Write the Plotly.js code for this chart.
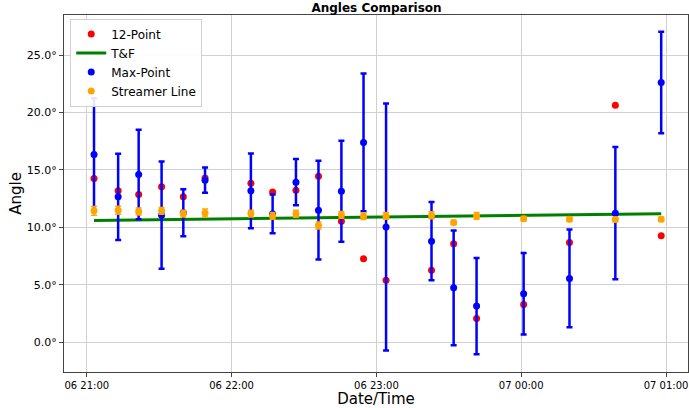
<!DOCTYPE html>
<html>
<head>
<meta charset="utf-8">
<script src="https://cdn.plot.ly/plotly-3.0.1.min.js"></script>
<style>html,body{margin:0;padding:0;background:#fff;}#chart{width:689px;height:408px;}</style>
</head>
<body>
<div id="chart"></div>
<script>
const times = [
  '2024-01-06 21:03:00','2024-01-06 21:13:00','2024-01-06 21:21:30','2024-01-06 21:31:00',
  '2024-01-06 21:40:00','2024-01-06 21:49:00','2024-01-06 22:08:00','2024-01-06 22:17:00',
  '2024-01-06 22:26:40','2024-01-06 22:36:00','2024-01-06 22:45:30','2024-01-06 22:54:40',
  '2024-01-06 23:04:00','2024-01-06 23:22:50','2024-01-06 23:32:00','2024-01-06 23:41:30',
  '2024-01-07 00:01:00','2024-01-07 00:20:00','2024-01-07 00:39:00','2024-01-07 00:58:00'
];
const twelvePoint = [14.26,13.18,12.86,13.53,12.66,14.31,13.85,13.07,13.24,14.46,10.54,7.26,5.4,6.27,8.57,2.06,3.28,8.68,20.64,9.26];
const maxPoint    = [16.35,12.66,14.6,11.06,11.28,14.11,13.18,11.18,13.94,11.5,13.15,17.4,10.04,8.8,4.73,3.14,4.21,5.55,11.24,22.62];
const maxPointErr = [4.9,3.75,3.9,4.67,2.05,1.1,3.25,1.69,2.02,4.3,4.4,6.0,10.76,3.4,5.0,4.2,3.55,4.26,5.76,4.43];
const streamer    = [11.44,11.5,11.38,11.44,11.2,11.26,11.2,11.0,11.18,10.16,11.09,10.98,11.0,11.06,10.42,11.0,10.75,10.71,10.69,10.71];
const streamerErr = [0.38,0.35,0.3,0.3,0.3,0.35,0.3,0.3,0.3,0.3,0.3,0.3,0.3,0.3,0.2,0.3,0.2,0.2,0.2,0.2];
const tfTimes = ['2024-01-06 21:03:00','2024-01-07 00:58:00'];
const tfValues = [10.6, 11.18];

const traces = [
  {x: times, y: twelvePoint, name: '12-Point', mode: 'markers', type: 'scatter',
   marker: {color: '#ff0000', size: 7}},
  {x: tfTimes, y: tfValues, name: 'T&F', mode: 'lines', type: 'scatter',
   line: {color: '#008000', width: 3}},
  {x: times, y: maxPoint, name: 'Max-Point', mode: 'markers', type: 'scatter',
   marker: {color: '#0000ff', size: 7},
   error_y: {type: 'data', array: maxPointErr, visible: true, color: '#0000ff', thickness: 2.5, width: 3}},
  {x: times, y: streamer, name: 'Streamer Line', mode: 'markers', type: 'scatter',
   marker: {color: '#ffa500', size: 7},
   error_y: {type: 'data', array: streamerErr, visible: true, color: '#ffa500', thickness: 1.5, width: 3}}
];

const font = 'DejaVu Sans, sans-serif';
const layout = {
  width: 689, height: 408,
  margin: {l: 64, r: 1, t: 15, b: 36, pad: 0},
  paper_bgcolor: '#fff', plot_bgcolor: '#fff',
  font: {family: font, color: '#000', size: 11},
  title: {text: '<b>Angles Comparison</b>', font: {family: font, size: 12, color: '#000'},
          x: 0.5465, xanchor: 'center', y: 0.982, yanchor: 'middle'},
  xaxis: {
    type: 'date',
    range: ['2024-01-06 20:50:34', '2024-01-07 01:09:06'],
    tickformat: '%d %H:%M',
    tickvals: ['2024-01-06 21:00','2024-01-06 22:00','2024-01-06 23:00','2024-01-07 00:00','2024-01-07 01:00'],
    showgrid: true, gridcolor: '#d0d0d0', gridwidth: 1,
    showline: true, linecolor: '#444', linewidth: 1, mirror: true,
    ticks: 'outside', ticklen: 4, tickcolor: '#444',
    tickfont: {family: font, size: 10},
    zeroline: false,
    title: {text: 'Date/Time', font: {family: font, size: 15}, standoff: 4}
  },
  yaxis: {
    range: [-2.6, 28.5],
    tickvals: [0, 5, 10, 15, 20, 25],
    ticktext: ['0.0°', '5.0°', '10.0°', '15.0°', '20.0°', '25.0°'],
    showgrid: true, gridcolor: '#d0d0d0', gridwidth: 1,
    showline: true, linecolor: '#444', linewidth: 1, mirror: true,
    ticks: 'outside', ticklen: 4, tickcolor: '#444',
    tickfont: {family: font, size: 11},
    zeroline: false,
    title: {text: 'Angle', font: {family: font, size: 15}, standoff: 1}
  },
  legend: {
    x: 0.01, y: 0.99, xanchor: 'left', yanchor: 'top',
    bgcolor: 'rgba(255,255,255,0.9)', bordercolor: '#d0d0d0', borderwidth: 1,
    font: {family: font, size: 12}, tracegroupgap: 0
  },
  showlegend: true
};

Plotly.newPlot('chart', traces, layout, {staticPlot: true, displayModeBar: false});
</script>
</body>
</html>
